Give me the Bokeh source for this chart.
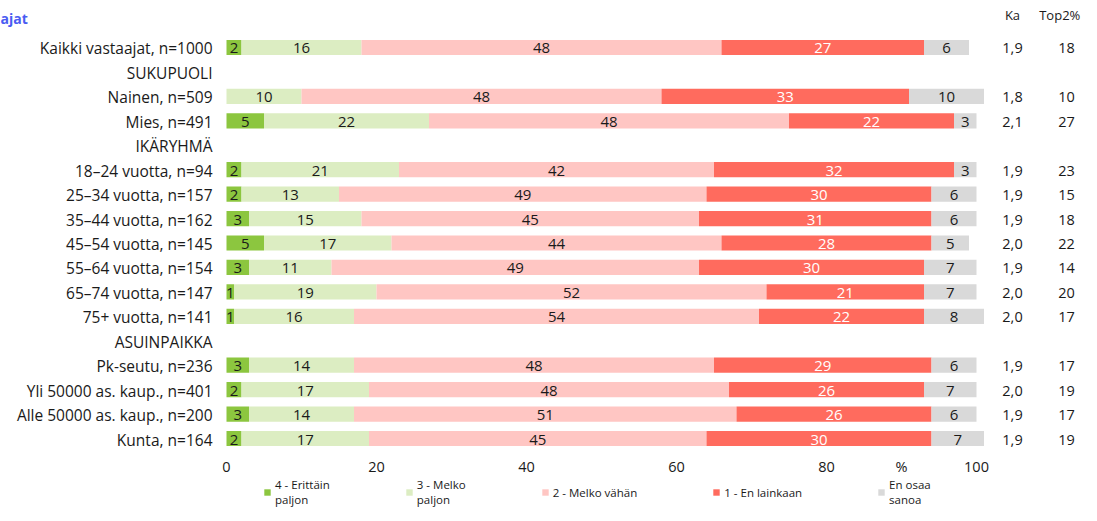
from bokeh.plotting import figure
from bokeh.layouts import column
from bokeh.models import Range1d, FixedTicker, Legend, LegendItem, ColumnDataSource
from bokeh.core.properties import value
from bokeh.embed import file_html
from bokeh.resources import INLINE

rows = ["Kaikki vastaajat, n=1000", "SUKUPUOLI", "Nainen, n=509", "Mies, n=491",
        "IKÄRYHMÄ", "18–24 vuotta, n=94", "25–34 vuotta, n=157", "35–44 vuotta, n=162",
        "45–54 vuotta, n=145", "55–64 vuotta, n=154", "65–74 vuotta, n=147",
        "75+ vuotta, n=141", "ASUINPAIKKA", "Pk-seutu, n=236",
        "Yli 50000 as. kaup., n=401", "Alle 50000 as. kaup., n=200", "Kunta, n=164"]

series_names = ["4 - Erittäin\npaljon", "3 - Melko\npaljon", "2 - Melko vähän",
                "1 - En lainkaan", "En osaa\nsanoa"]

erittain = [2, None, 0, 5, None, 2, 2, 3, 5, 3, 1, 1, None, 3, 2, 3, 2]
melko = [16, None, 10, 22, None, 21, 13, 15, 17, 11, 19, 16, None, 14, 17, 14, 17]
vahan = [48, None, 48, 48, None, 42, 49, 45, 44, 49, 52, 54, None, 48, 48, 51, 45]
ei = [27, None, 33, 22, None, 32, 30, 31, 28, 30, 21, 22, None, 29, 26, 26, 30]
eos = [6, None, 10, 3, None, 3, 6, 6, 5, 7, 7, 8, None, 6, 7, 6, 7]
ka = [1.9, None, 1.8, 2.1, None, 1.9, 1.9, 1.9, 2.0, 1.9, 2.0, 2.0, None, 1.9, 2.0, 1.9, 1.9]
top2 = [18, None, 10, 27, None, 23, 15, 18, 22, 14, 20, 17, None, 17, 19, 17, 19]

x_ticks = [0, 20, 40, 60, 80, 100]
pct_tick = 90
title_text = "ajat"
col_headers = ["Ka", "Top2%"]

colors = ["#8cc63f", "#dcedc2", "#ffc6c3", "#ff6b5e", "#d9d9d9"]
label_colors = ["#1a1a1a", "#1a1a1a", "#1a1a1a", "#ffffff", "#1a1a1a"]
FONT = "Open Sans"
PX = 7.5  # pixels per percent unit
XR = (-226 / PX, 855 / PX)

p = figure(frame_width=1081, frame_height=456, output_backend="svg", toolbar_location=None,
           x_range=Range1d(*XR), y_range=Range1d(16.736, -1.923),
           min_border_left=0, min_border_right=0, min_border_top=0, min_border_bottom=0)
p.outline_line_color = None
p.xgrid.visible = False
p.ygrid.visible = False
p.yaxis.visible = False

all_series = [erittain, melko, vahan, ei, eos]
lefts = [0.0] * len(rows)
for s_idx, ser in enumerate(all_series):
    ys, l, r, cx, txt = [], [], [], [], []
    for i, v in enumerate(ser):
        if v is None:
            continue
        ys.append(i)
        l.append(lefts[i])
        r.append(lefts[i] + v)
        cx.append(lefts[i] + v / 2)
        txt.append(str(v) if v > 0 else "")
        lefts[i] += v
    src = ColumnDataSource(dict(y=ys, left=l, right=r, cx=cx, txt=txt))
    p.hbar(y="y", left="left", right="right", height=0.62, source=src,
           fill_color=colors[s_idx], line_color=None)
    p.text(x="cx", y="y", text="txt", source=src, text_align="center",
           text_baseline="middle", text_font=value(FONT), text_font_size="15px",
           text_color=label_colors[s_idx], y_offset=1)

# category labels (left)
cat_src = ColumnDataSource(dict(x=[0] * len(rows), y=list(range(len(rows))), t=rows))
p.text(x="x", y="y", text="t", source=cat_src, x_offset=-14, y_offset=1,
       text_align="right", text_baseline="middle", text_font=value(FONT),
       text_font_size="15.5px", text_color="#1a1a1a")

# cut-off title
p.text(x=[XR[0]], y=[-1.19], text=[title_text], text_align="left",
       text_baseline="middle", text_font=value(FONT), text_font_size="14px",
       text_font_style="bold", text_color="#4a5cf2")

# Ka and Top2% columns
kys = [i for i, v in enumerate(ka) if v is not None]
ka_src = ColumnDataSource(dict(
    y=kys,
    x1=[104.8] * len(kys),
    x2=[112.0] * len(kys),
    ka=[f"{ka[i]:.1f}".replace(".", ",") for i in kys],
    t2=[str(top2[i]) for i in kys]))
p.text(x="x1", y="y", text="ka", source=ka_src, text_align="center", text_baseline="middle",
       text_font=value(FONT), text_font_size="14.5px", text_color="#1a1a1a", y_offset=1)
p.text(x="x2", y="y", text="t2", source=ka_src, text_align="center", text_baseline="middle",
       text_font=value(FONT), text_font_size="14.5px", text_color="#1a1a1a", y_offset=1)
p.text(x=[104.8, 111.1], y=[-1.35, -1.35], text=col_headers, text_align="center",
       text_baseline="middle", text_font=value(FONT), text_font_size="13px",
       text_color="#1a1a1a")

# x axis
p.xaxis.ticker = FixedTicker(ticks=x_ticks + [pct_tick])
p.xaxis.major_label_overrides = {pct_tick: "%"}
p.xaxis.axis_line_color = None
p.xaxis.major_tick_line_color = None
p.xaxis.minor_tick_line_color = None
p.xaxis.major_tick_out = 0
p.xaxis.major_tick_in = 0
p.xaxis.minor_tick_out = 0
p.xaxis.axis_label_standoff = 0
p.xaxis.major_label_standoff = 0
p.xaxis.major_label_text_font = FONT
p.xaxis.major_label_text_font_size = "14.5px"
p.xaxis.major_label_text_color = "#1a1a1a"

# legend strip
pl = figure(frame_width=1081, frame_height=29, output_backend="svg", toolbar_location=None,
            x_range=Range1d(*XR), y_range=Range1d(0, 1),
            min_border_left=0, min_border_right=0, min_border_top=0, min_border_bottom=0)
pl.outline_line_color = None
pl.axis.visible = False
pl.grid.visible = False
legend_items = []
for s_idx in range(len(all_series)):
    r = pl.hbar(y=[0.5], left=[0], right=[0], height=0.5, fill_color=colors[s_idx],
                line_color=None)
    legend_items.append(LegendItem(label=series_names[s_idx], renderers=[r]))
legend = Legend(items=legend_items, orientation="horizontal", location=(263, 0),
                border_line_color=None, background_fill_alpha=0, padding=0, margin=0,
                spacing=75, label_standoff=4, glyph_width=8, glyph_height=8,
                label_text_font=FONT, label_text_font_size="11.5px",
                label_text_color="#1a1a1a", label_height=12)
pl.add_layout(legend, "center")

layout = column(p, pl, spacing=0)
open("out.html", "w").write(file_html(layout, INLINE))
